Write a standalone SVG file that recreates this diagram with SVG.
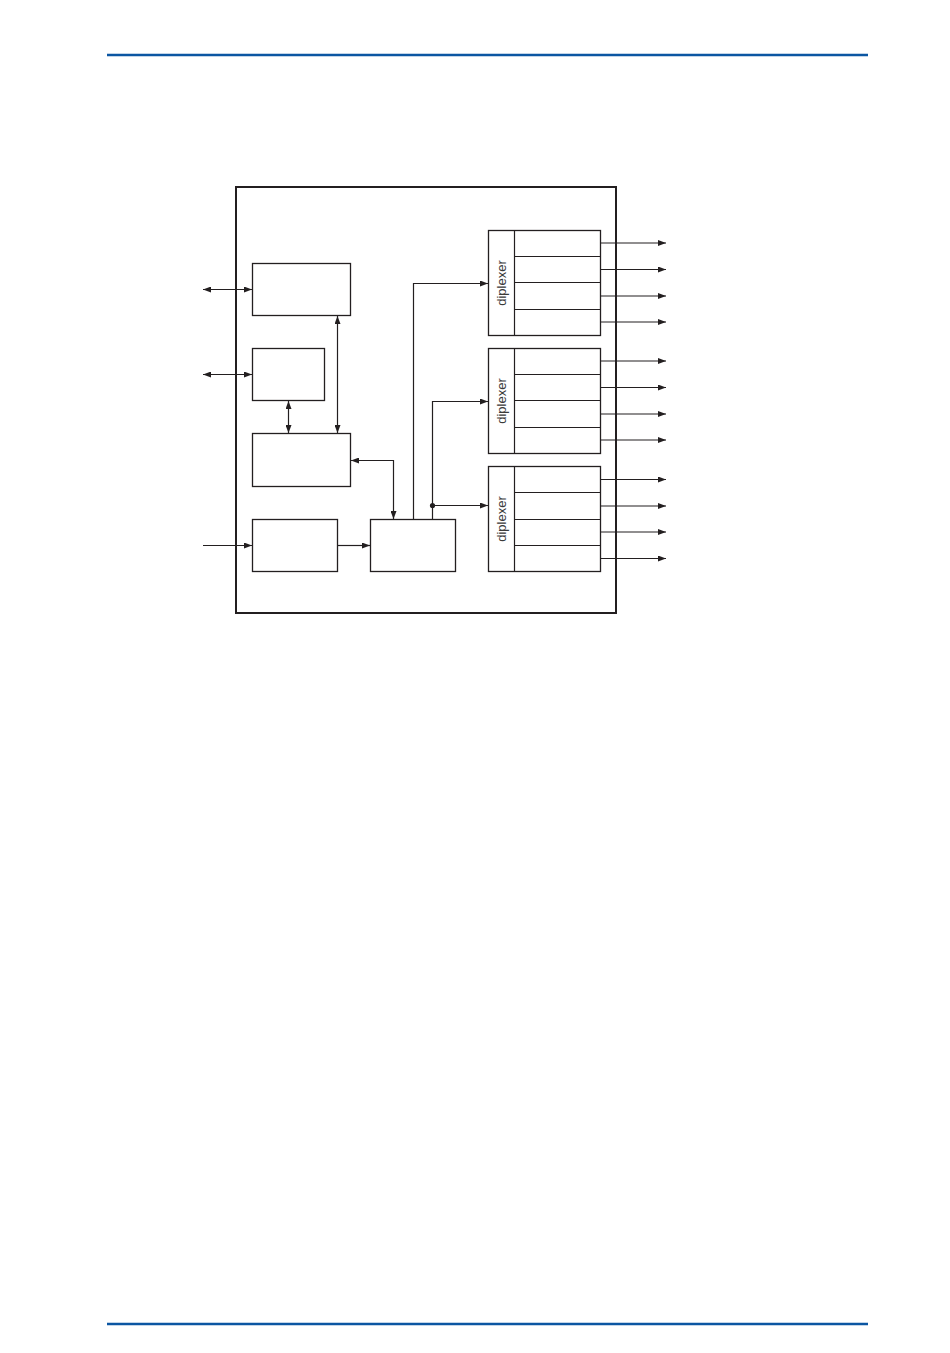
<svg xmlns="http://www.w3.org/2000/svg" width="950" height="1353" viewBox="0 0 950 1353">
<style>
.box{fill:#fff;stroke:#231f20;stroke-width:1.3}
.ln{fill:none;stroke:#231f20;stroke-width:1.2}
.rule{stroke:#0b56a2;stroke-width:2.5}
.lbl{font-family:"Liberation Sans",Arial,sans-serif;font-size:13px;fill:#3a3a3a;text-anchor:middle;dominant-baseline:central}
</style>
<defs>
<marker id="ah" viewBox="0 0 8 6" refX="8" refY="3" markerWidth="8" markerHeight="6" markerUnits="userSpaceOnUse" orient="auto-start-reverse">
<path d="M0,0 L8,3 L0,6 Z" fill="#231f20"/>
</marker>
</defs>
<rect width="950" height="1353" fill="#fff"/>
<line class="rule" x1="107" y1="55" x2="868" y2="55"/>
<line class="rule" x1="107" y1="1324" x2="868" y2="1324"/>
<g id="enclosure"><rect x="236" y="187" width="380" height="426" fill="none" stroke="#231f20" stroke-width="2"/></g>
<g id="nodeA"><rect class="box" x="252.5" y="263.5" width="98" height="52"/></g>
<g id="nodeB"><rect class="box" x="252.5" y="348.5" width="72" height="52"/></g>
<g id="nodeC"><rect class="box" x="252.5" y="433.5" width="98" height="53"/></g>
<g id="nodeD"><rect class="box" x="252.5" y="519.5" width="85" height="52"/></g>
<g id="nodeE"><rect class="box" x="370.5" y="519.5" width="85" height="52"/></g>
<g id="diplexer1">
<rect class="box" x="488.5" y="230.5" width="112" height="105"/>
<line class="ln" x1="514.5" y1="230.5" x2="514.5" y2="335.5"/>
<line class="ln" x1="514.5" y1="256.5" x2="600.5" y2="256.5"/>
<line class="ln" x1="514.5" y1="282.5" x2="600.5" y2="282.5"/>
<line class="ln" x1="514.5" y1="309.5" x2="600.5" y2="309.5"/>
<text class="lbl" transform="translate(501.5,283) rotate(-90)">diplexer</text>
</g>
<g id="diplexer2">
<rect class="box" x="488.5" y="348.5" width="112" height="105"/>
<line class="ln" x1="514.5" y1="348.5" x2="514.5" y2="453.5"/>
<line class="ln" x1="514.5" y1="374.5" x2="600.5" y2="374.5"/>
<line class="ln" x1="514.5" y1="400.5" x2="600.5" y2="400.5"/>
<line class="ln" x1="514.5" y1="427.5" x2="600.5" y2="427.5"/>
<text class="lbl" transform="translate(501.5,401) rotate(-90)">diplexer</text>
</g>
<g id="diplexer3">
<rect class="box" x="488.5" y="466.5" width="112" height="105"/>
<line class="ln" x1="514.5" y1="466.5" x2="514.5" y2="571.5"/>
<line class="ln" x1="514.5" y1="492.5" x2="600.5" y2="492.5"/>
<line class="ln" x1="514.5" y1="519.5" x2="600.5" y2="519.5"/>
<line class="ln" x1="514.5" y1="545.5" x2="600.5" y2="545.5"/>
<text class="lbl" transform="translate(501.5,519) rotate(-90)">diplexer</text>
</g>
<g id="connectors">
<line class="ln" x1="203" y1="289.5" x2="252" y2="289.5" marker-start="url(#ah)" marker-end="url(#ah)"/>
<line class="ln" x1="203" y1="374.5" x2="252" y2="374.5" marker-start="url(#ah)" marker-end="url(#ah)"/>
<line class="ln" x1="203" y1="545.5" x2="252" y2="545.5" marker-end="url(#ah)"/>
<line class="ln" x1="337.5" y1="316" x2="337.5" y2="433" marker-start="url(#ah)" marker-end="url(#ah)"/>
<line class="ln" x1="288.5" y1="401" x2="288.5" y2="433" marker-start="url(#ah)" marker-end="url(#ah)"/>
<polyline class="ln" points="351,460.5 393.5,460.5 393.5,519" marker-start="url(#ah)" marker-end="url(#ah)"/>
<line class="ln" x1="338" y1="545.5" x2="370" y2="545.5" marker-end="url(#ah)"/>
<polyline class="ln" points="413.5,519 413.5,283.5 488,283.5" marker-end="url(#ah)"/>
<polyline class="ln" points="432.5,519 432.5,401.5 488,401.5" marker-end="url(#ah)"/>
<line class="ln" x1="432.5" y1="505.5" x2="488" y2="505.5" marker-end="url(#ah)"/>
<circle cx="432.5" cy="505.5" r="2.6" fill="#231f20"/>
<line class="ln" x1="600.5" y1="243" x2="666" y2="243" marker-end="url(#ah)"/>
<line class="ln" x1="600.5" y1="269.5" x2="666" y2="269.5" marker-end="url(#ah)"/>
<line class="ln" x1="600.5" y1="296" x2="666" y2="296" marker-end="url(#ah)"/>
<line class="ln" x1="600.5" y1="322" x2="666" y2="322" marker-end="url(#ah)"/>
<line class="ln" x1="600.5" y1="361" x2="666" y2="361" marker-end="url(#ah)"/>
<line class="ln" x1="600.5" y1="387.5" x2="666" y2="387.5" marker-end="url(#ah)"/>
<line class="ln" x1="600.5" y1="414" x2="666" y2="414" marker-end="url(#ah)"/>
<line class="ln" x1="600.5" y1="440" x2="666" y2="440" marker-end="url(#ah)"/>
<line class="ln" x1="600.5" y1="479.5" x2="666" y2="479.5" marker-end="url(#ah)"/>
<line class="ln" x1="600.5" y1="506" x2="666" y2="506" marker-end="url(#ah)"/>
<line class="ln" x1="600.5" y1="532" x2="666" y2="532" marker-end="url(#ah)"/>
<line class="ln" x1="600.5" y1="558.5" x2="666" y2="558.5" marker-end="url(#ah)"/>
</g>
</svg>
